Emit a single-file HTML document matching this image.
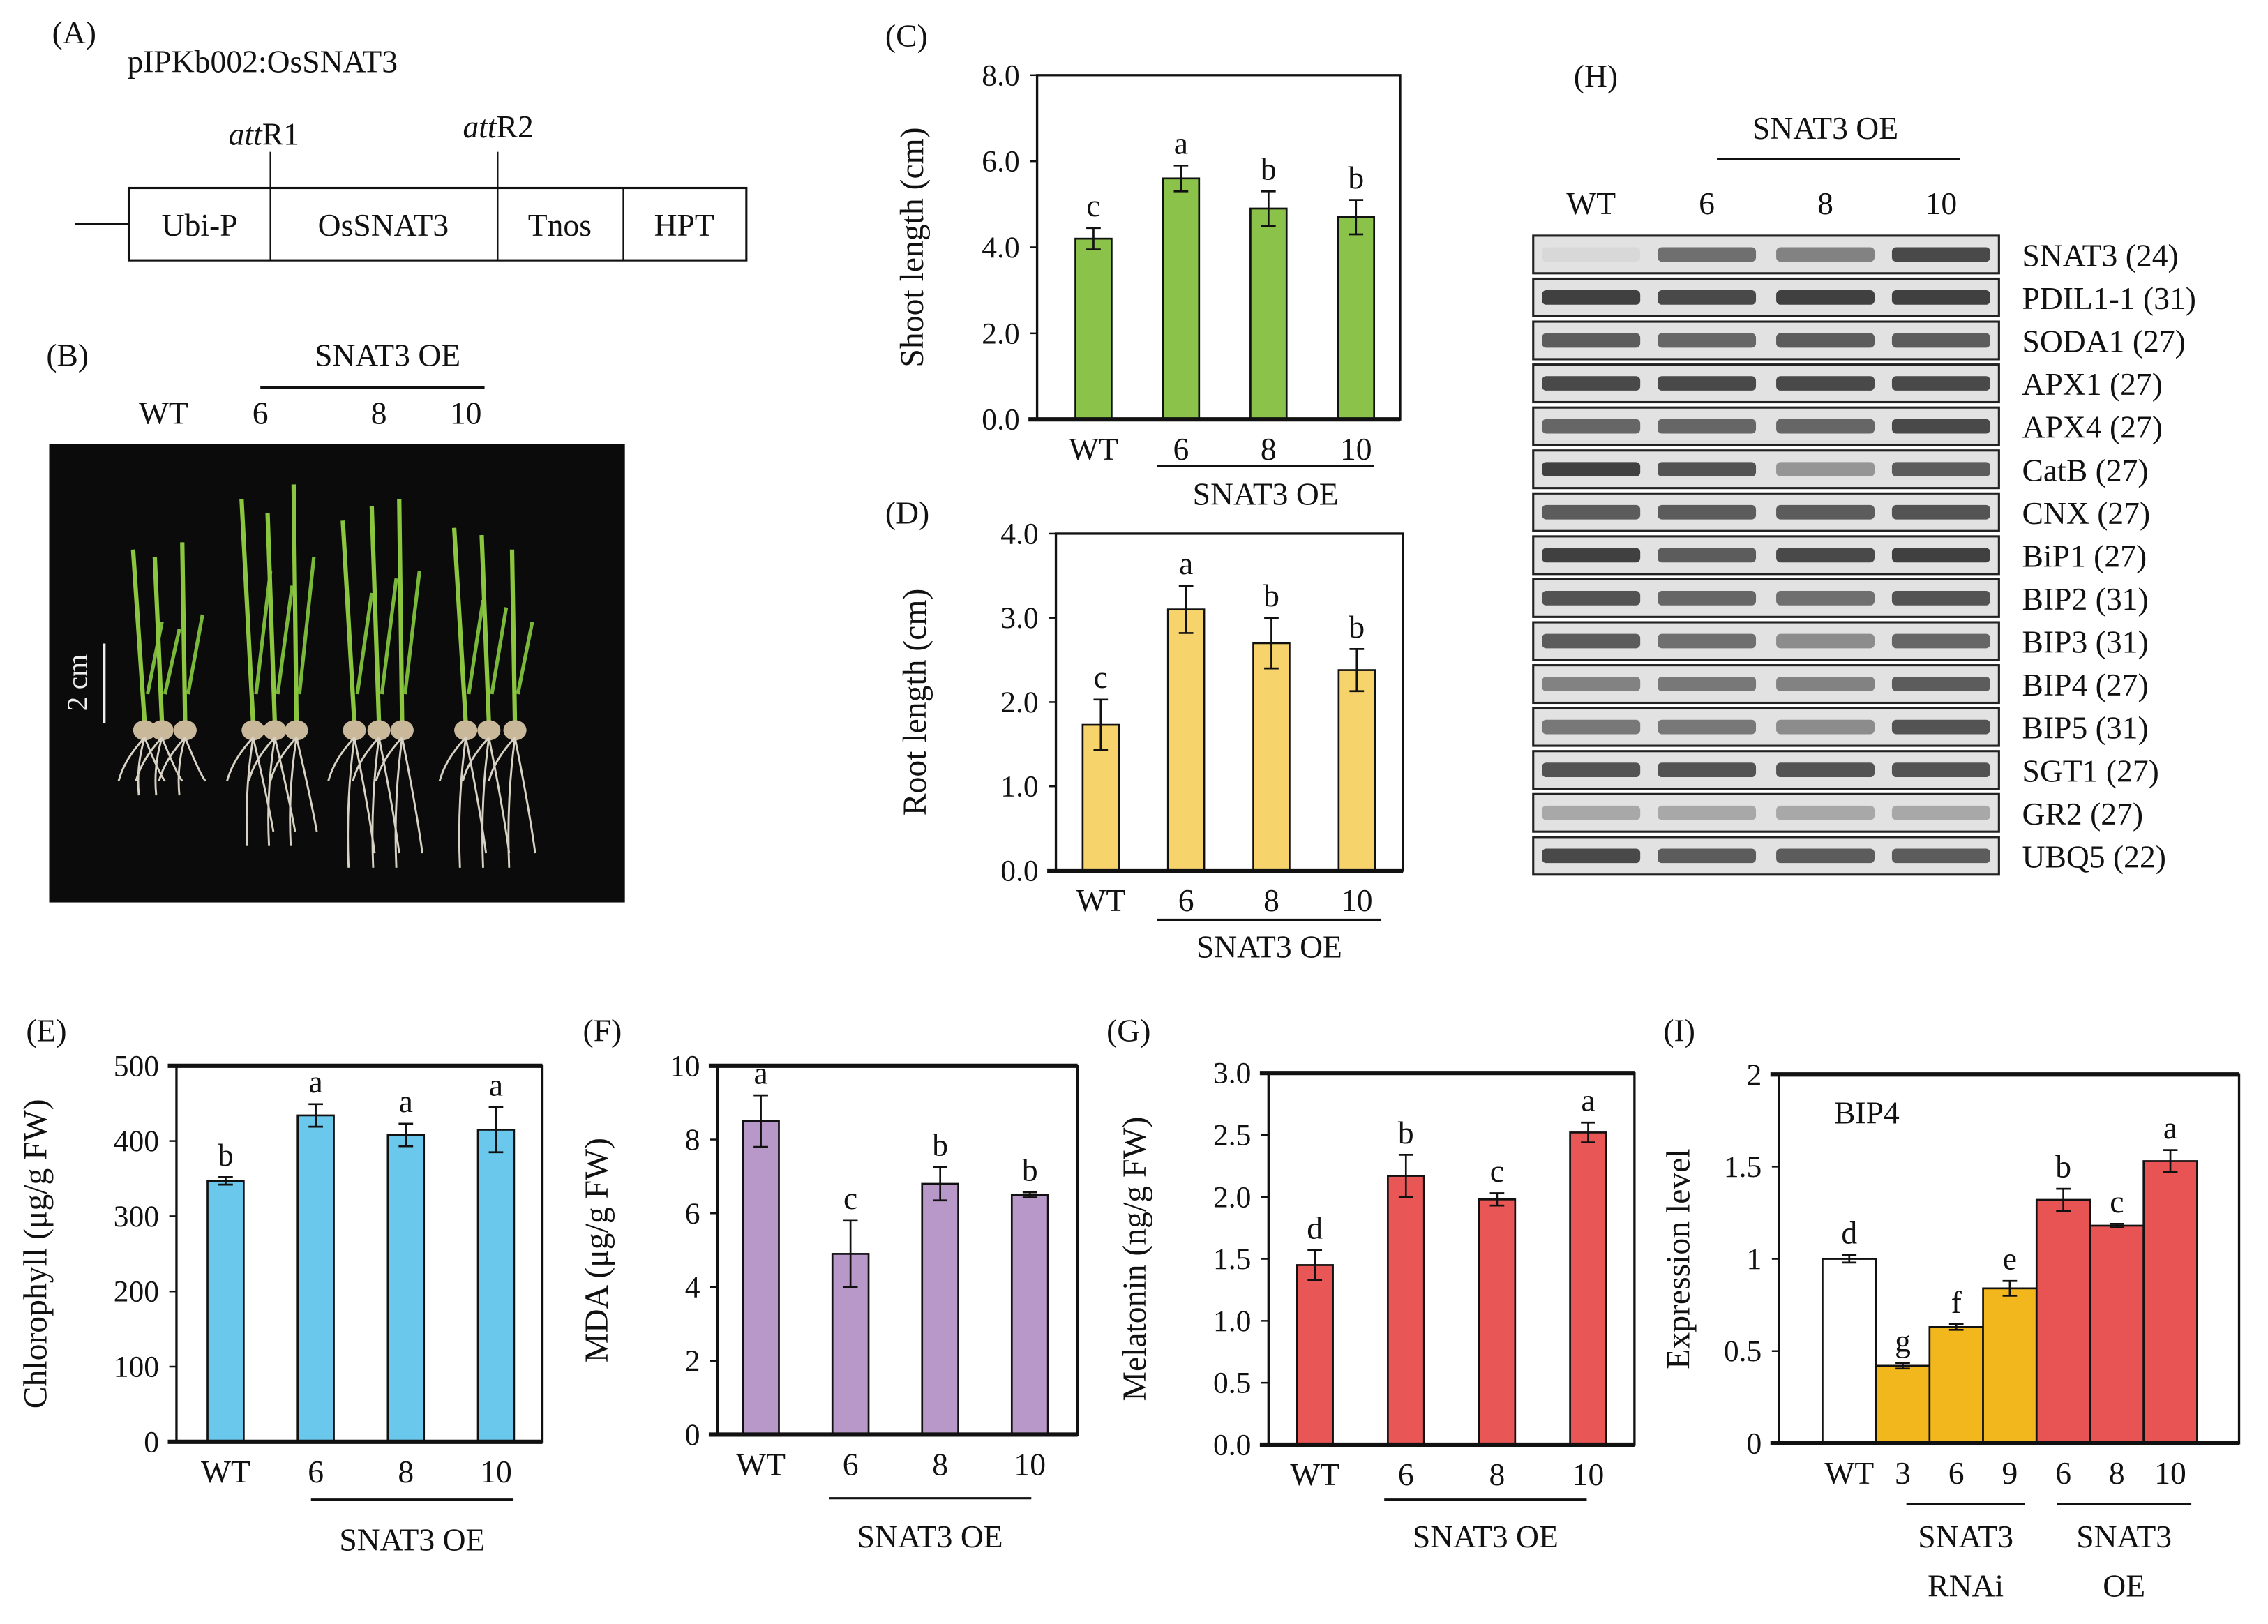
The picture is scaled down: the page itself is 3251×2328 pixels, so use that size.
<!DOCTYPE html>
<html><head><meta charset="utf-8"><style>
html,body{margin:0;padding:0;background:#fff}
svg{display:block}
text{font-family:"Liberation Serif",serif;fill:#111}
</style></head><body>
<svg id="fig" width="3251" height="2328" viewBox="0 0 1568 1123" preserveAspectRatio="none" xmlns="http://www.w3.org/2000/svg">
<rect width="1568" height="1123" fill="#fff"/>
<!-- Panel A -->
<g font-size="22">
<text x="36" y="30">(A)</text>
<text x="88" y="50">pIPKb002:OsSNAT3</text>
<text x="158" y="100"><tspan font-style="italic">att</tspan>R1</text>
<text x="320" y="95"><tspan font-style="italic">att</tspan>R2</text>
<line x1="52" y1="155" x2="89" y2="155" stroke="#111" stroke-width="1.5"/>
<line x1="187" y1="105" x2="187" y2="130" stroke="#111" stroke-width="1.2"/>
<line x1="344" y1="105" x2="344" y2="130" stroke="#111" stroke-width="1.2"/>
<rect x="89" y="130" width="427" height="50" fill="none" stroke="#111" stroke-width="1.5"/>
<line x1="187" y1="130" x2="187" y2="180" stroke="#111" stroke-width="1.2"/>
<line x1="344" y1="130" x2="344" y2="180" stroke="#111" stroke-width="1.2"/>
<line x1="431" y1="130" x2="431" y2="180" stroke="#111" stroke-width="1.2"/>
<text x="138" y="163" text-anchor="middle">Ubi-P</text>
<text x="265" y="163" text-anchor="middle">OsSNAT3</text>
<text x="387" y="163" text-anchor="middle">Tnos</text>
<text x="473" y="163" text-anchor="middle">HPT</text>
</g>
<!-- Panel B -->
<g font-size="22">
<text x="32" y="253">(B)</text>
<text x="268" y="253" text-anchor="middle">SNAT3 OE</text>
<line x1="180" y1="268" x2="335" y2="268" stroke="#111" stroke-width="1.5"/>
<text x="113" y="293" text-anchor="middle">WT</text>
<text x="180" y="293" text-anchor="middle">6</text>
<text x="262" y="293" text-anchor="middle">8</text>
<text x="322" y="293" text-anchor="middle">10</text>
<rect x="34" y="307" width="398" height="317" fill="#0b0b0b"/>
<line x1="72" y1="445" x2="72" y2="500" stroke="#eee" stroke-width="2"/>
<text x="0" y="0" transform="translate(60,472) rotate(-90)" text-anchor="middle" style="fill:#eee" font-size="20">2 cm</text>
<g id="seedlings"></g>
</g>
<g id="charts"></g>
<!-- Panel H gel -->
<g id="gel" font-size="22">
<text x="1088" y="60">(H)</text>
<text x="1262" y="96" text-anchor="middle">SNAT3 OE</text>
<line x1="1187" y1="110" x2="1355" y2="110" stroke="#111" stroke-width="1.5"/>
<text x="1100" y="148" text-anchor="middle">WT</text>
<text x="1180" y="148" text-anchor="middle">6</text>
<text x="1262" y="148" text-anchor="middle">8</text>
<text x="1342" y="148" text-anchor="middle">10</text>
</g>
</svg>
<script>
const NS='http://www.w3.org/2000/svg';
const svg=document.getElementById('fig');
function mk(tag,attrs,parent,txt){const e=document.createElementNS(NS,tag);for(const k in attrs)e.setAttribute(k,attrs[k]);if(txt!==undefined)e.textContent=txt;(parent||svg).appendChild(e);return e;}

// ===== Chart data =====
const cCats=['WT','6','8','10'];
const cVals=[4.2,5.6,4.9,4.7];
const cErrs=[0.25,0.3,0.4,0.4];
const cLetters=['c','a','b','b'];
const cTicks=['0.0','2.0','4.0','6.0','8.0'];

const dCats=['WT','6','8','10'];
const dVals=[1.73,3.1,2.7,2.38];
const dErrs=[0.3,0.28,0.3,0.25];
const dLetters=['c','a','b','b'];
const dTicks=['0.0','1.0','2.0','3.0','4.0'];

const eCats=['WT','6','8','10'];
const eVals=[347,434,408,415];
const eErrs=[5,15,15,30];
const eLetters=['b','a','a','a'];
const eTicks=['0','100','200','300','400','500'];

const fCats=['WT','6','8','10'];
const fVals=[8.5,4.9,6.8,6.5];
const fErrs=[0.7,0.9,0.45,0.07];
const fLetters=['a','c','b','b'];
const fTicks=['0','2','4','6','8','10'];

const gCats=['WT','6','8','10'];
const gVals=[1.45,2.17,1.98,2.52];
const gErrs=[0.12,0.17,0.05,0.08];
const gLetters=['d','b','c','a'];
const gTicks=['0.0','0.5','1.0','1.5','2.0','2.5','3.0'];

const iCats=['WT','3','6','9','6','8','10'];
const iVals=[1.0,0.42,0.63,0.84,1.32,1.18,1.53];
const iErrs=[0.02,0.015,0.015,0.04,0.06,0.01,0.06];
const iLetters=['d','g','f','e','b','c','a'];
const iTicks=['0','0.5','1','1.5','2'];

const gelGenes=['SNAT3 (24)','PDIL1-1 (31)','SODA1 (27)','APX1 (27)','APX4 (27)','CatB (27)','CNX (27)','BiP1 (27)','BIP2 (31)','BIP3 (31)','BIP4 (27)','BIP5 (31)','SGT1 (27)','GR2 (27)','UBQ5 (22)'];
const gelBands=[[0.05,0.6,0.5,0.8],[0.85,0.8,0.85,0.85],[0.7,0.65,0.7,0.7],[0.8,0.8,0.8,0.8],[0.65,0.65,0.65,0.8],[0.85,0.75,0.4,0.7],[0.7,0.7,0.7,0.75],[0.85,0.7,0.8,0.85],[0.75,0.65,0.6,0.75],[0.7,0.6,0.45,0.65],[0.5,0.55,0.5,0.7],[0.55,0.55,0.45,0.75],[0.75,0.75,0.75,0.75],[0.3,0.3,0.3,0.3],[0.8,0.7,0.7,0.7]];

const charts=document.getElementById('charts');

function barChart(o){
  const g=mk('g',{},charts);
  
  
  const {x0,x1,y0,y1,max}=o;
  const ys=v=>y0-(v/max)*(y0-y1);
  o.ticks.forEach(t=>{
    const v=parseFloat(t), y=ys(v);
    mk('line',{x1:x0-5,y1:y,x2:x0,y2:y,stroke:'#111','stroke-width':1.2},g);
    const tx=mk('text',{x:x0-12,y:y+7,'text-anchor':'end','font-size':21},g,t);
    
    
  });
  o.vals.forEach((v,i)=>{
    const cx=o.cx(i), w=o.bw, y=ys(v);
    const r=mk('rect',{x:cx-w/2,y:y,width:w,height:y0-y,fill:o.color(i),stroke:'#111','stroke-width':1.3},g);
    
    
    const e=o.errs[i], ye1=ys(v+e), ye2=ys(v-e);
    mk('line',{x1:cx,y1:ye1,x2:cx,y2:ye2,stroke:'#111','stroke-width':1.3},g);
    mk('line',{x1:cx-5,y1:ye1,x2:cx+5,y2:ye1,stroke:'#111','stroke-width':1.3},g);
    mk('line',{x1:cx-5,y1:ye2,x2:cx+5,y2:ye2,stroke:'#111','stroke-width':1.3},g);
    const lt=mk('text',{x:cx,y:ye1-8,'text-anchor':'middle','font-size':22},g,o.letters[i]);
    
    
    const xl=mk('text',{x:cx,y:y0+28,'text-anchor':'middle','font-size':22},g,o.cats[i]);
    
    
  });
  mk('rect',{x:x0,y:y1,width:x1-x0,height:y0-y1,fill:'none',stroke:'#111','stroke-width':1.6},g);
  mk('line',{x1:x0-6,y1:y0,x2:x1,y2:y0,stroke:'#111','stroke-width':3},g);
  if(o.heavyTop) mk('line',{x1:x0-6,y1:y1,x2:x1,y2:y1,stroke:'#111','stroke-width':3},g);
  const tt=mk('text',{transform:`translate(${o.titleX},${(y0+y1)/2}) rotate(-90)`,'text-anchor':'middle','font-size':23},g,o.title);
  
  
  const pl=mk('text',{x:o.lab[0],y:o.lab[1],'font-size':22},g,o.panel);
  
  
  (o.groups||[]).forEach(gr=>{
    mk('line',{x1:gr.a,y1:gr.ly,x2:gr.b,y2:gr.ly,stroke:'#111','stroke-width':1.5},g);
    gr.lines.forEach((s,k)=>{
      const t=mk('text',{x:(gr.a+gr.b)/2+(gr.dx||0),y:gr.ty+k*34,'text-anchor':'middle','font-size':22},g,s);
      
      
    });
  });
  return g;
}
const pos4=(a,s)=>i=>a+i*s;

barChart({name:'shoot-length-chart',x0:717,x1:968,y0:290,y1:52,max:8,cats:cCats,vals:cVals,errs:cErrs,letters:cLetters,ticks:cTicks,
  cx:pos4(756,60.5),bw:25,color:()=>'#8bc34a',title:'Shoot length (cm)',titleX:638,panel:'(C)',lab:[612,32],
  groups:[{a:800,b:950,ly:322,ty:349,lines:['SNAT3 OE']}]});
barChart({name:'root-length-chart',x0:730,x1:970,y0:602,y1:369,max:4,cats:dCats,vals:dVals,errs:dErrs,letters:dLetters,ticks:dTicks,
  cx:pos4(761,59),bw:25,color:()=>'#f7d36c',title:'Root length (cm)',titleX:640,panel:'(D)',lab:[612,362],
  groups:[{a:800,b:955,ly:636,ty:662,lines:['SNAT3 OE']}]});
barChart({name:'chlorophyll-chart',x0:122,x1:375,y0:997,y1:737,max:500,cats:eCats,vals:eVals,errs:eErrs,letters:eLetters,ticks:eTicks,heavyTop:true,
  cx:pos4(156,62.3),bw:25,color:()=>'#6ac8ec',title:'Chlorophyll (μg/g FW)',titleX:32,panel:'(E)',lab:[18,720],
  groups:[{a:215,b:355,ly:1037,ty:1072,lines:['SNAT3 OE']}]});
barChart({name:'mda-chart',x0:496,x1:745,y0:992,y1:737,max:10,cats:fCats,vals:fVals,errs:fErrs,letters:fLetters,ticks:fTicks,heavyTop:true,
  cx:pos4(526,62),bw:25,color:()=>'#b898c9',title:'MDA (μg/g FW)',titleX:420,panel:'(F)',lab:[403,720],
  groups:[{a:573,b:713,ly:1036,ty:1070,lines:['SNAT3 OE']}]});
barChart({name:'melatonin-chart',x0:877,x1:1130,y0:999,y1:742,max:3,cats:gCats,vals:gVals,errs:gErrs,letters:gLetters,ticks:gTicks,heavyTop:true,
  cx:pos4(909,63),bw:25,color:()=>'#e85656',title:'Melatonin (ng/g FW)',titleX:792,panel:'(G)',lab:[765,720],
  groups:[{a:957,b:1097,ly:1037,ty:1070,lines:['SNAT3 OE']}]});
const iG=barChart({name:'bip4-expression-chart',x0:1230,x1:1548,y0:998,y1:743,max:2,cats:iCats,vals:iVals,errs:iErrs,letters:iLetters,ticks:iTicks,heavyTop:true,
  cx:i=>1278.5+i*37,bw:37,color:i=>i===0?'#ffffff':(i<4?'#f2b71c':'#e85454'),title:'Expression level',titleX:1168,panel:'(I)',lab:[1150,720],
  groups:[{a:1318,b:1400,ly:1040,ty:1070,lines:['SNAT3','RNAi']},{a:1422,b:1515,ly:1040,ty:1070,lines:['SNAT3','OE']}]});
const bt=mk('text',{x:1268,y:777,'font-size':22},iG,'BIP4');



// ===== Gel =====
const gel=document.getElementById('gel');
const lanes=[1100,1180,1262,1342];
gelGenes.forEach((gname,r)=>{
  const y=163+r*29.7;
  const st=mk('rect',{x:1060,y:y,width:322,height:26,fill:'#e2e2e2',stroke:'#222','stroke-width':1.5},gel);
  
  
  gelBands[r].forEach((b,l)=>{
    const c=Math.round(225-b*190);
    mk('rect',{x:lanes[l]-34,y:y+8,width:68,height:10,rx:3,fill:`rgb(${c},${c},${c})`},gel);
  });
  const t=mk('text',{x:1398,y:y+21,'font-size':22},gel,gname);
  
  
});

// ===== Seedlings (decorative) =====
const sd=document.getElementById('seedlings');
const groups=[[100,112,128],[175,190,205],[245,262,278],[322,338,356]];
const heights=[[380,385,375],[345,355,335],[360,350,345],[365,370,380]];
groups.forEach((gp,gi)=>gp.forEach((x,k)=>{
  const top=heights[gi][k];
  mk('line',{x1:x,y1:500,x2:x-8+k*3,y2:top,stroke:'#8cc63f','stroke-width':3},sd);
  mk('line',{x1:x+2,y1:480,x2:x+12,y2:top+50,stroke:'#7ab83a','stroke-width':2.5},sd);
  mk('ellipse',{cx:x,cy:505,rx:8,ry:7,fill:'#c9b99a'},sd);
  const rl=gi===0?550:(gi===1?585:600);
  mk('path',{d:`M${x} 510 Q${x-6} ${(510+rl)/2} ${x-4} ${rl} M${x} 510 Q${x+10} ${(520+rl)/2} ${x+14} ${rl-10} M${x} 510 Q${x-14} 525 ${x-18} 540`,stroke:'#d8d2c4','stroke-width':1.4,fill:'none'},sd);
}));
</script>
</body></html>
